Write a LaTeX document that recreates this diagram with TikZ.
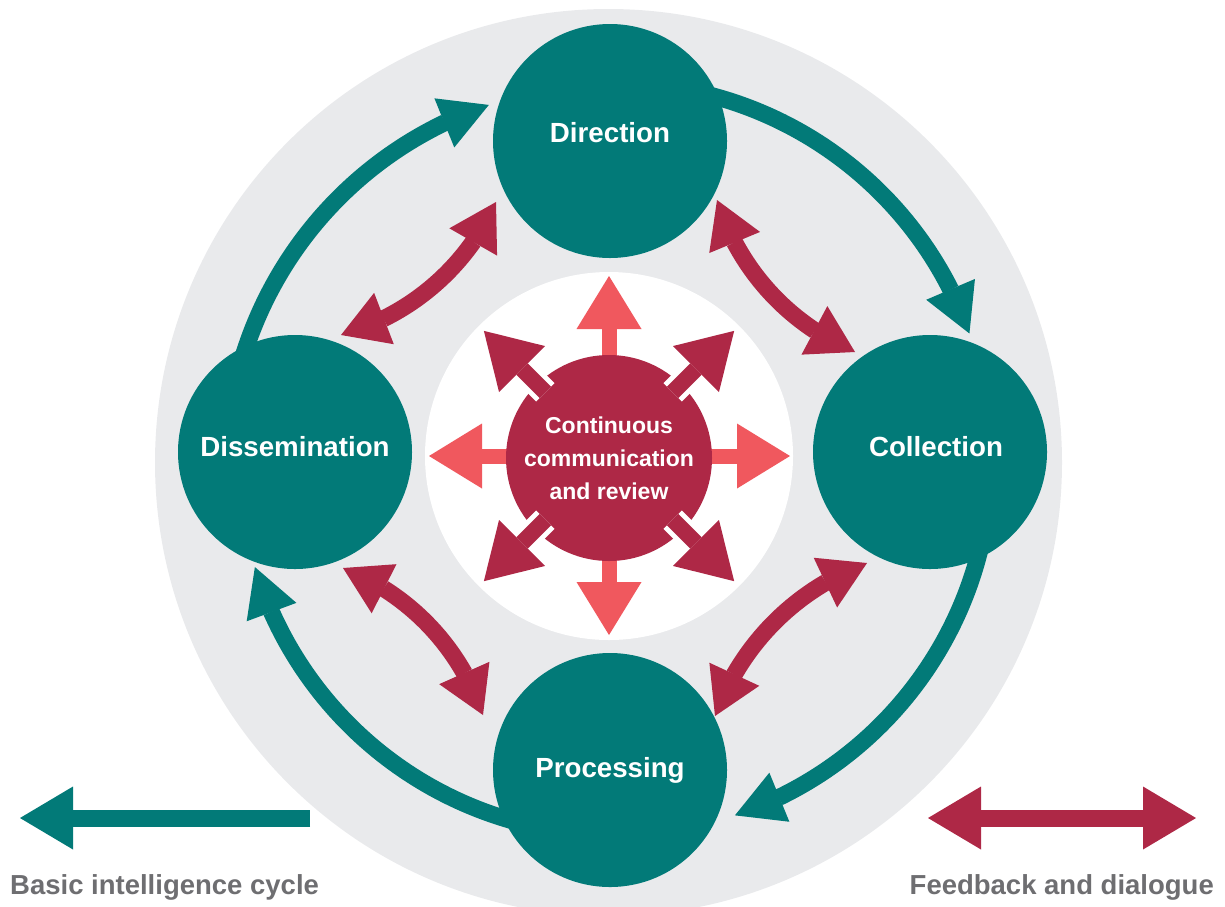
\documentclass[tikz,border=0pt]{standalone}
\usepackage{fontspec}
\setmainfont{Liberation Sans}
\usetikzlibrary{arrows.meta,bending,calc}
\definecolor{tealc}{HTML}{027A78}
\definecolor{magc}{HTML}{AE2846}
\definecolor{coralc}{HTML}{F0585E}
\definecolor{bgc}{HTML}{E9EAEC}
\definecolor{legc}{HTML}{6E6E71}
\tikzset{
  bgdisc/.style={circle, fill=#1, draw=none, inner sep=0pt},
  tnode/.style={circle, fill=tealc, minimum size=234pt, inner sep=0pt, text=white,
    font=\fontsize{27.7}{32}\selectfont\bfseries, text height=20pt, text depth=#1},
  cnode/.style={circle, fill=magc, minimum size=206pt, inner sep=0pt, text=white, align=center,
    font=\fontsize{23}{33}\selectfont\bfseries},
  cyc/.style={draw=tealc, line width=17pt, -{Triangle[length=48pt,width=53pt,line width=0pt,flex]}},
  fb/.style={draw=magc, line width=17pt, looseness=0.9,
    {Triangle[length=46pt,width=55pt,line width=0pt,flex]}-{Triangle[length=46pt,width=55pt,line width=0pt,flex]}},
  ortho/.style={draw=coralc, line width=15pt, -{Triangle[length=53pt,width=65pt,line width=0pt]}},
  diagw/.style={draw=white, line width=26pt},
  diag/.style={draw=magc, line width=16pt, -{Triangle[length=54pt,width=65pt,line width=0pt]}},
  legcyc/.style={draw=tealc, line width=17pt, -{Triangle[length=53pt,width=63pt,line width=0pt]}},
  legfb/.style={draw=magc, line width=17pt,
    {Triangle[length=53pt,width=63pt,line width=0pt]}-{Triangle[length=53pt,width=63pt,line width=0pt]}},
  legtext/.style={inner sep=0pt, text=legc, font=\fontsize{27.5}{32}\selectfont\bfseries}
}
\begin{document}
\begin{tikzpicture}[x=1pt,y=-1pt]
\clip (0,0) rectangle (1225,906);
% background discs
\node[bgdisc=bgc, minimum size=907pt] (outer) at (608.5,462.5) {};
\node[bgdisc=white, minimum size=368pt] (inner) at (609,456) {};
\coordinate (ctr) at (615,459);
\coordinate (ctrl) at (611,470);
\coordinate (star) at (609,456);
% basic intelligence cycle arcs
\draw[cyc] ($(ctr)+(-82:376)$) arc[start angle=-82, end angle=-19.5, radius=376];
\draw[cyc] ($(ctr)+(8:376)$) arc[start angle=8, end angle=71.4, radius=376];
\draw[cyc] ($(ctr)+(98:376)$) arc[start angle=98, end angle=163.3, radius=376];
\draw[cyc] ($(ctrl)+(188:385)$) arc[start angle=188, end angle=251.5, radius=385];
% feedback arrows
\coordinate (fa1) at (496,202); \coordinate (fb1) at (341,335);
\coordinate (fa2) at (717,200); \coordinate (fb2) at (855,352);
\coordinate (fa3) at (867,563); \coordinate (fb3) at (715,716);
\coordinate (fa4) at (343,568); \coordinate (fb4) at (483,715);
\draw[fb] (fa1) to[bend left=25] (fb1);
\draw[fb] (fa2) to[bend right=25] (fb2);
\draw[fb] (fa3) to[bend right=25] (fb3);
\draw[fb] (fa4) to[bend left=25] (fb4);
% orthogonal star arrows
\coordinate (tR) at ($(star)+(0:181)$);
\coordinate (tD) at ($(star)+(90:179)$);
\coordinate (tL) at ($(star)+(180:180)$);
\coordinate (tU) at ($(star)+(270:180)$);
\draw[ortho] (star) -- (tR);
\draw[ortho] (star) -- (tD);
\draw[ortho] (star) -- (tL);
\draw[ortho] (star) -- (tU);
% centre circle
\node[cnode] (cc) at (609,458) {Continuous\\communication\\and review};
% diagonal star arrows
\foreach \a/\n in {45/DR,135/DL,225/UL,315/UR}{
  \coordinate (s\n) at ($(star)+(\a:90)$);
  \coordinate (m\n) at ($(star)+(\a:125)$);
  \coordinate (t\n) at ($(star)+(\a:177)$);
  \draw[diagw] (s\n) -- (m\n);
  \draw[diag] (s\n) -- (t\n);
}
% cycle nodes
\node[tnode=18pt] (dir) at (610,141) {Direction};
\node[tnode=12pt] (col) at (930,452) {\hspace{12pt}Collection};
\node[tnode=12pt] (dis) at (295,452) {Dissemination\hspace{16pt}};
\node[tnode=6pt] (pro) at (610,770) {Processing};
% legend
\coordinate (lcA) at (310,818); \coordinate (lcB) at (20,818);
\coordinate (lfA) at (928,818); \coordinate (lfB) at (1196,818);
\draw[legcyc] (lcA) -- (lcB);
\draw[legfb] (lfA) -- (lfB);
\node[legtext, anchor=base west] (legl) at (10,894) {Basic intelligence cycle};
\node[legtext, anchor=base east] (legr) at (1214,894) {Feedback and dialogue};
\end{tikzpicture}
\end{document}
